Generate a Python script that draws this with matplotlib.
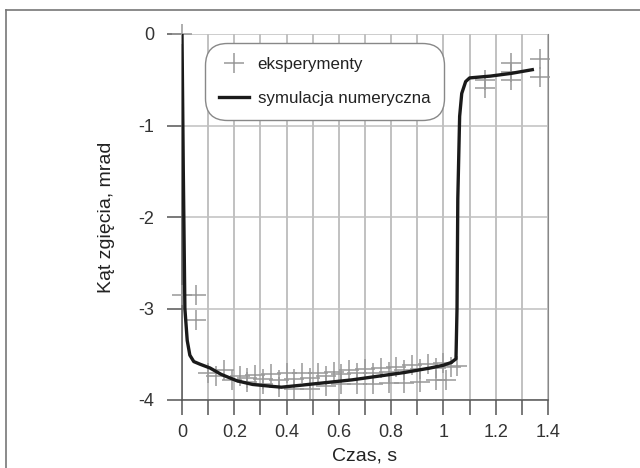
import matplotlib.pyplot as plt
from matplotlib.lines import Line2D

plt.rcParams['font.family'] = ['Liberation Sans', 'DejaVu Sans']

# symulacja numeryczna
sim_t = [0, 0.005, 0.011, 0.02, 0.03, 0.045, 0.07, 0.107, 0.15, 0.21, 0.27, 0.34,
         0.38, 0.45, 0.55, 0.65, 0.75, 0.85, 0.95, 1.0, 1.03, 1.048, 1.052, 1.055,
         1.062, 1.07, 1.085, 1.1, 1.18, 1.26, 1.34]
sim_y = [0, -1.5, -3.0, -3.35, -3.51, -3.58, -3.61, -3.65, -3.72, -3.79, -3.83, -3.85,
         -3.86, -3.84, -3.81, -3.78, -3.74, -3.70, -3.65, -3.62, -3.59, -3.55, -3.0, -1.8,
         -0.9, -0.65, -0.52, -0.48, -0.46, -0.43, -0.39]

# eksperymenty (three runs + start/end points)
exp_a_t = [0.10, 0.16, 0.22, 0.28, 0.34, 0.40, 0.46, 0.52, 0.58, 0.64, 0.70, 0.76,
           0.82, 0.88, 0.94, 1.00, 1.05]
exp_a_y = [-3.70, -3.67, -3.74, -3.73, -3.72, -3.71, -3.71, -3.70, -3.69, -3.67, -3.66,
           -3.65, -3.64, -3.62, -3.61, -3.60, -3.63]
exp_b_t = [0.13, 0.19, 0.25, 0.31, 0.37, 0.43, 0.49, 0.55, 0.61, 0.67, 0.73, 0.79,
           0.85, 0.91, 0.97, 1.01]
exp_b_y = [-3.74, -3.78, -3.80, -3.83, -3.86, -3.88, -3.88, -3.85, -3.83, -3.83, -3.82,
           -3.81, -3.81, -3.80, -3.78, -3.78]
exp_c_t = [0.25, 0.31, 0.37, 0.43, 0.49, 0.55, 0.61, 0.67, 0.73, 0.79, 0.85, 0.91, 0.97, 1.03]
exp_c_y = [-3.76, -3.77, -3.78, -3.77, -3.76, -3.74, -3.72, -3.71, -3.70, -3.69, -3.67,
           -3.66, -3.65, -3.64]
exp_d_t = [0, 0, 0.055, 0.055, 1.16, 1.16, 1.26, 1.26, 1.26, 1.37, 1.37]
exp_d_y = [0, -2.85, -2.85, -3.13, -0.50, -0.59, -0.32, -0.41, -0.50, -0.27, -0.47]

exp_t = exp_a_t + exp_b_t + exp_c_t + exp_d_t
exp_y = exp_a_y + exp_b_y + exp_c_y + exp_d_y

fig = plt.figure(figsize=(6.4, 4.68), dpi=100)
ax = fig.add_axes([182/640, 68/468, 366/640, 366/468])

ax.plot(exp_t, exp_y, '+', color='#999999', markersize=14, markeredgewidth=1.1,
        clip_on=False, label='eksperymenty', zorder=3)
ax.plot(sim_t, sim_y, color='#1a1a1a', lw=2.4, label='symulacja numeryczna', zorder=4)

ax.set_xlim(0, 1.4)
ax.set_ylim(-4, 0)
ax.set_xticks([i/10 for i in range(0, 15)], minor=True)
ax.set_xticks([0, 0.2, 0.4, 0.6, 0.8, 1.0, 1.2, 1.4])
ax.set_xticklabels(['0', '0.2', '0.4', '0.6', '0.8', '1', '1.2', '1.4'])
ax.set_yticks([0, -1, -2, -3, -4])
ax.set_yticklabels(['0', '-1', '-2', '-3', '-4'])
ax.grid(True, which='both', axis='x', color='#b0b0b0', lw=1.1)
ax.grid(True, which='major', axis='y', color='#c0c0c0', lw=1.1)
ax.tick_params(axis='x', which='both', direction='out', length=11, width=1.1,
               color='#555555', labelsize=13, labelcolor='#333333', pad=6)
ax.tick_params(axis='y', direction='out', length=11, width=1.1,
               color='#555555', labelsize=13, labelcolor='#333333', pad=9)
ax.spines['top'].set_visible(False)
ax.spines['right'].set_color('#888888')
ax.spines['left'].set_color('#555555')
ax.spines['bottom'].set_color('#555555')
ax.spines['left'].set_linewidth(1.1)
ax.spines['bottom'].set_linewidth(1.1)

ax.set_xlabel('Czas, s', fontsize=14, labelpad=5, color='#222222')
ax.set_ylabel('Kąt zgięcia, mrad', fontsize=14, labelpad=17, color='#222222')

leg = ax.legend(loc='upper left', bbox_to_anchor=(0.063, 0.975), fontsize=12.2,
                fancybox=True, framealpha=1, edgecolor='#888888',
                handlelength=1.8, handletextpad=0.5, borderpad=0.8,
                borderaxespad=0, labelspacing=1.15)
leg.get_frame().set_boxstyle('round', pad=0, rounding_size=1.3)
leg.get_frame().set_linewidth(1.0)
for t in leg.get_texts():
    t.set_color('#222222')

# outer frame
fig.add_artist(Line2D([6/640, 6/640], [0, 1 - 10/468], color='#777777', lw=1.2))
fig.add_artist(Line2D([6/640, 1], [1 - 10/468, 1 - 10/468], color='#777777', lw=1.2))

fig.savefig('out.png', dpi=100)
